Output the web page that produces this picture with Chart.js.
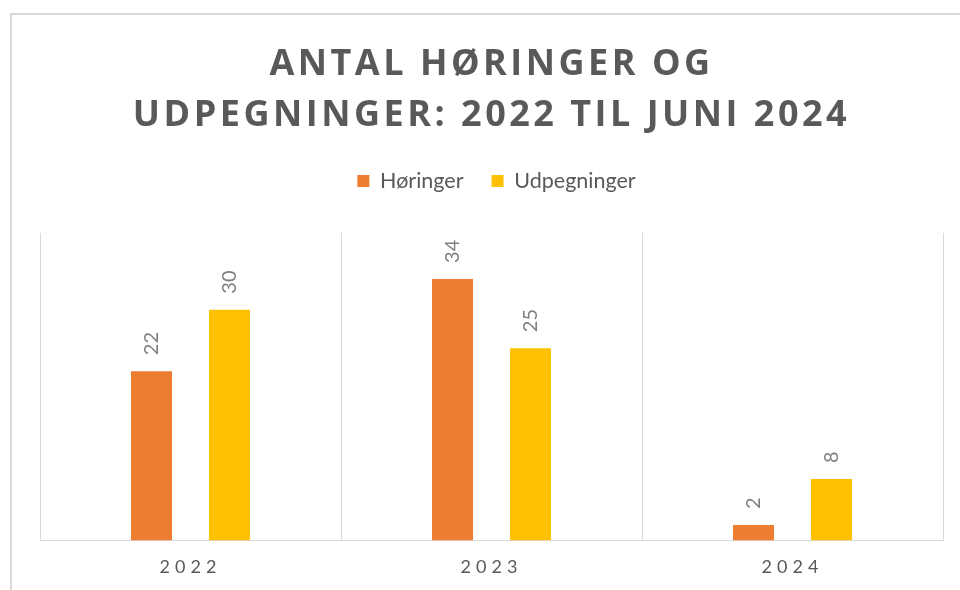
<!DOCTYPE html>
<html lang="da">
<head>
  <meta charset="UTF-8" />
  <title>Antal høringer og udpegninger</title>
  <script src="https://cdn.jsdelivr.net/npm/chart.js"></script>
  <style>
    body {
      margin: 0;
      background: #fff;
      overflow: hidden;
    }

    .frame {
      position: absolute;
      left: 10px;
      top: 13px;
      width: 970px;
      height: 600px;
      border: 2px solid #d9d9d9;
      box-sizing: border-box;
    }

    #chart {
      position: absolute;
      left: 0;
      top: 0;
    }
  </style>
</head>
<body>
  <div class="frame"></div>
  <canvas id="chart" width="960" height="590"></canvas>

  <script>
    const years = ['2022', '2023', '2024'];
    const horinger = [22, 34, 2];
    const udpegninger = [30, 25, 8];
    const titleLines = ['ANTAL HØRINGER OG', 'UDPEGNINGER: 2022 TIL JUNI 2024'];

    // letter spacing for the title and the year labels
    const spacing = {
      id: 'spacing',
      beforeDraw(chart) {
        const t = chart.titleBlock;
        if (t && !t._spaced) {
          const draw = t.draw;
          t.draw = function () {
            this.ctx.save();
            this.ctx.letterSpacing = '3.5px';
            draw.apply(this, arguments);
            this.ctx.restore();
          };
          t._spaced = true;
        }
        const x = chart.scales.x;
        if (x && !x._spaced) {
          const drawLabels = x.drawLabels;
          x.drawLabels = function () {
            this.ctx.save();
            this.ctx.letterSpacing = '5px';
            drawLabels.apply(this, arguments);
            this.ctx.restore();
          };
          x._spaced = true;
        }
      }
    };

    // more room under the legend, items nudged right a little
    const legendSpace = {
      id: 'legendSpace',
      beforeLayout(chart) {
        const lg = chart.legend;
        if (lg && !lg._grown) {
          const fit = lg.fit;
          lg.fit = function () {
            fit.call(this);
            this.height += 31;
            if (this.lineWidths) this.lineWidths[0] -= 10;
          };
          lg._grown = true;
        }
      }
    };

    // rotated value labels above the bars
    const valueLabels = {
      id: 'valueLabels',
      afterDatasetsDraw(chart) {
        const ctx = chart.ctx;
        ctx.save();
        ctx.font = '20px Lato';
        ctx.fillStyle = '#7f7f7f';
        ctx.textAlign = 'left';
        ctx.textBaseline = 'middle';
        chart.data.datasets.forEach((ds, i) => {
          chart.getDatasetMeta(i).data.forEach((bar, j) => {
            ctx.save();
            ctx.translate(bar.x, bar.y - 16);
            ctx.rotate(-Math.PI / 2);
            ctx.fillText(String(ds.data[j]), 0, 0);
            ctx.restore();
          });
        });
        ctx.restore();
      }
    };

    new Chart(document.getElementById('chart'), {
      type: 'bar',
      data: {
        labels: years,
        datasets: [
          {
            label: 'Høringer',
            data: horinger,
            backgroundColor: '#ED7D31',
            categoryPercentage: 0.518,
            barPercentage: 0.526
          },
          {
            label: 'Udpegninger',
            data: udpegninger,
            backgroundColor: '#FFC000',
            categoryPercentage: 0.518,
            barPercentage: 0.526
          }
        ]
      },
      options: {
        responsive: false,
        animation: false,
        devicePixelRatio: 1,
        layout: {
          padding: { top: 14, left: 40, right: 17, bottom: -4 }
        },
        plugins: {
          title: {
            display: true,
            text: titleLines,
            color: '#595959',
            font: { family: 'Open Sans', size: 36, weight: 'bold', lineHeight: 1.4 },
            padding: { top: 26, bottom: 1.5 }
          },
          legend: {
            labels: {
              boxWidth: 12,
              boxHeight: 12,
              padding: 28,
              color: '#595959',
              font: { family: 'Lato', size: 21.5 }
            }
          },
          tooltip: { enabled: false }
        },
        scales: {
          x: {
            grid: { offset: true, color: '#d9d9d9', lineWidth: 1, drawTicks: false },
            border: { color: '#d9d9d9', width: 1 },
            ticks: { color: '#595959', font: { family: 'Lato', size: 18 }, padding: 16 }
          },
          y: {
            display: false,
            min: 0,
            max: 40
          }
        }
      },
      plugins: [spacing, legendSpace, valueLabels]
    });
  </script>
</body>
</html>
